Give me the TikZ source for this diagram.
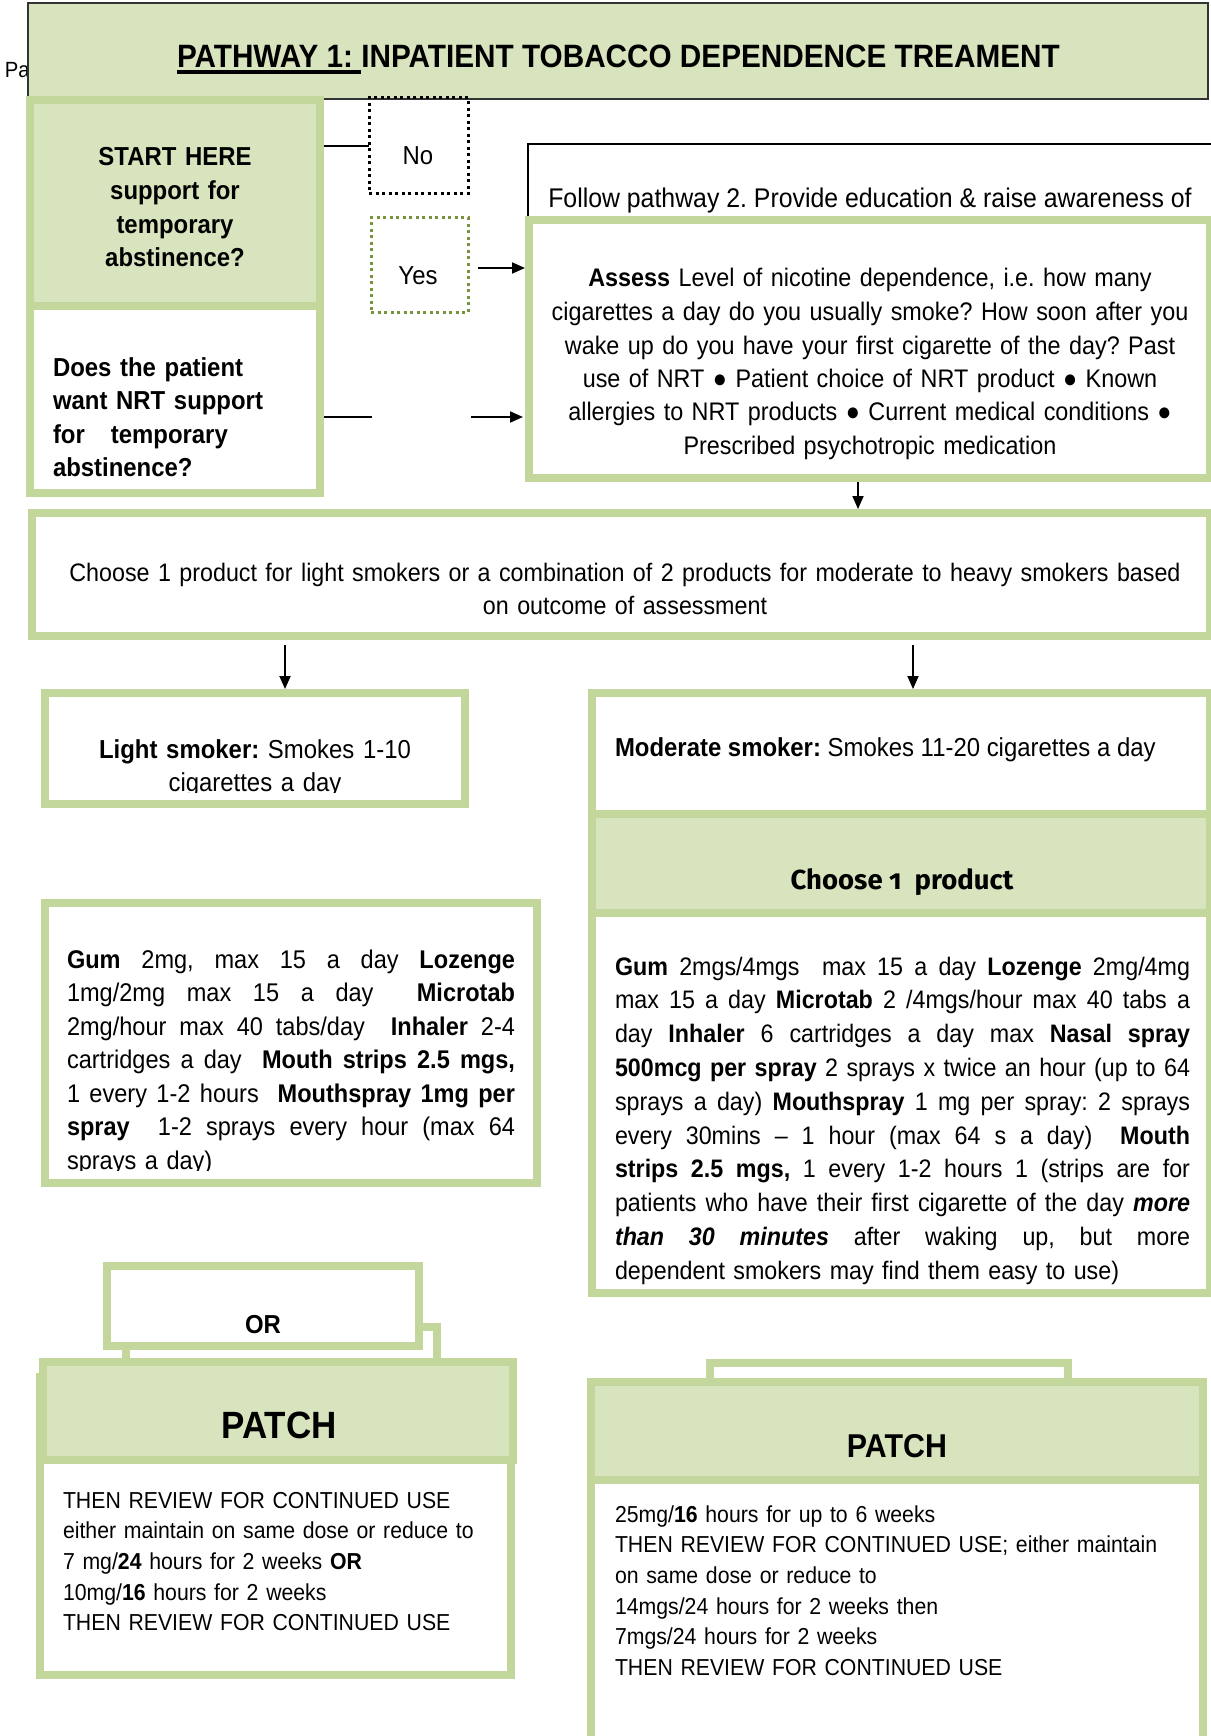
\documentclass[tikz,border=0pt]{standalone}
\usepackage{fontspec}
\setmainfont{Liberation Sans}[FakeStretch=0.92]
\newfontfamily\choosefont{Fira Sans}[Numbers=OldStyle]
\usetikzlibrary{arrows.meta}
\definecolor{lgreen}{HTML}{D7E4BD}
\definecolor{bgreen}{HTML}{C3D69B}
\definecolor{olivegr}{HTML}{77933C}
\newcommand\myfs[2]{\fontsize{#1}{#2}\selectfont}
\newcommand\jst[2]{\makebox[#1][s]{\spaceskip=\fontdimen2\font plus 1fil\relax #2}}
\newcommand\ulbox[1]{\setbox0=\hbox{#1}\rlap{\rule[-6.7pt]{\wd0}{3.5pt}}\box0}
\begin{document}
\frenchspacing
\begin{tikzpicture}[x=1pt,y=-1pt,
  box/.style={anchor=north west, inner sep=0pt, outer sep=0pt},
  gbox/.style={box, draw=bgreen, line width=8pt, fill=white},
  hbox/.style={box, draw=bgreen, line width=8pt, fill=lgreen},
  txt/.style={inner sep=0pt, outer sep=0pt, text=black},
  body/.style={txt, font=\myfs{26}{33.5}},
  bodyb/.style={txt, font=\myfs{26}{33.6}\bfseries},
  small/.style={txt, font=\myfs{23.1}{30.7}},
  conn/.style={line width=1.8pt, draw=black},
  arr/.style={conn, -{Triangle[length=13pt,width=11pt]}},
  dots/.style={box, line width=3pt, dash pattern=on 3pt off 3.5pt}]
\useasboundingbox (0,0) rectangle (1210,1736);
\fill[white] (0,0) rectangle (1210,1736);

% page stub and title
\node[txt, anchor=base west, font=\myfs{22}{26}] (pa) at (5,78) {Pa};
\node[box, fill=lgreen, draw=black!80, line width=2pt, minimum width=1180pt, minimum height=96pt] (title) at (28,3) {};
\node[txt, anchor=base west, font=\myfs{32.3}{38}\bfseries] (titletext) at (177,67.3)
  {\ulbox{PATHWAY 1: }INPATIENT TOBACCO DEPENDENCE TREAMENT};

% start / does
\node[gbox, minimum width=290pt, minimum height=187pt] (does) at (30,306) {};
\node[hbox, minimum width=290pt, minimum height=206pt] (start) at (30,100) {};
\node[bodyb, anchor=base, align=center, text width=280pt] (starttext) at (175,166)
  {START HERE\\support for\\temporary\\abstinence?};
\node[bodyb, anchor=base west, align=left, text width=260pt] (doestext) at (53,376)
  {Does the patient\\want NRT support\\for\ \ \ temporary\\abstinence?};

% No / Yes
\node[dots, draw=black, minimum width=99pt, minimum height=96pt] (nobox) at (369,98) {};
\node[body, anchor=base] (notext) at (418,165) {No};
\node[dots, draw=olivegr, minimum width=97pt, minimum height=94pt] (yesbox) at (371,218) {};
\node[body, anchor=base] (yestext) at (418,284) {Yes};

% follow pathway 2
\node[box, draw=black, line width=1.6pt, fill=white, minimum width=687pt, minimum height=156pt] (follow) at (528,144) {};
\node[txt, anchor=base, font=\myfs{27}{32}] (followtext) at (870,208)
  {Follow pathway 2. Provide education \& raise awareness of};

% assess
\node[gbox, minimum width=681pt, minimum height=258pt] (assess) at (529,220) {};
\node[txt, font=\myfs{25.4}{33.5}, anchor=base, align=center, text width=676pt] (assesstext) at (870,287)
  {\textbf{Assess} Level of nicotine dependence, i.e. how many\\
   cigarettes a day do you usually smoke? How soon after you\\
   wake up do you have your first cigarette of the day? Past\\
   use of NRT ● Patient choice of NRT product ● Known\\
   allergies to NRT products ● Current medical conditions ●\\
   Prescribed psychotropic medication};

% choose
\node[gbox, minimum width=1178pt, minimum height=123pt] (choose) at (32,513) {};
\node[txt, font=\myfs{25.3}{33.5}, anchor=base, align=center, text width=1170pt] (choosetext) at (625,581)
  {Choose 1 product for light smokers or a combination of 2 products for moderate to heavy smokers based\\on outcome of assessment};

% light smoker
\node[gbox, minimum width=420pt, minimum height=111pt] (light) at (45,693) {};
\begin{scope}
  \clip (45,693) rectangle (465,792);
  \node[body, anchor=base, align=center, text width=410pt] (lighttext) at (255,758)
    {\textbf{Light smoker:} Smokes 1-10\\cigarettes a day};
\end{scope}

\node[gbox, minimum width=492pt, minimum height=280pt] (lightbody) at (45,903) {};
\begin{scope}
  \clip (45,903) rectangle (537,1170);
  \node[txt, font=\myfs{25.6}{33.5}, anchor=base west, align=left, text width=448pt] (lightbodytext) at (67,968)
    {\jst{448pt}{\textbf{Gum} 2mg, max 15 a day \textbf{Lozenge}}\\
     \jst{448pt}{1mg/2mg max 15 a day\ \ \textbf{Microtab}}\\
     \jst{448pt}{2mg/hour max 40 tabs/day\ \ \textbf{Inhaler} 2-4}\\
     \jst{448pt}{cartridges a day\ \ \textbf{Mouth strips 2.5 mgs,}}\\
     \jst{448pt}{1 every 1-2 hours\ \ \textbf{Mouthspray 1mg per}}\\
     \jst{448pt}{\textbf{spray}\ \ 1-2 sprays every hour (max 64}\\
     sprays a day)};
\end{scope}

% moderate smoker
\node[gbox, minimum width=618pt, minimum height=121pt] (moder) at (592,693) {};
\node[body, anchor=base west] (modertext) at (615,756)
  {\textbf{Moderate smoker:} Smokes 11-20 cigarettes a day};
\node[hbox, minimum width=618pt, minimum height=99pt] (modhead) at (592,814) {};
\node[txt, anchor=base, font=\choosefont\bfseries\myfs{27.5}{30}] (modheadtext) at (902,889)
  {Choose 1\ \ product};
\node[gbox, minimum width=618pt, minimum height=380pt] (modbody) at (592,913) {};
\node[txt, font=\myfs{25.3}{33.8}, anchor=base west, align=left, text width=575pt] (modbodytext) at (615,975)
  {\jst{575pt}{\textbf{Gum} 2mgs/4mgs\ \ max 15 a day \textbf{Lozenge} 2mg/4mg}\\
   \jst{575pt}{max 15 a day \textbf{Microtab} 2 /4mgs/hour max 40 tabs a}\\
   \jst{575pt}{day \textbf{Inhaler} 6 cartridges a day max \textbf{Nasal spray}}\\
   \jst{575pt}{\textbf{500mcg per spray} 2 sprays x twice an hour (up to 64}\\
   \jst{575pt}{sprays a day) \textbf{Mouthspray} 1 mg per spray: 2 sprays}\\
   \jst{575pt}{every 30mins – 1 hour (max 64 s a day)\ \ \textbf{Mouth}}\\
   \jst{575pt}{\textbf{strips 2.5 mgs,} 1 every 1-2 hours 1 (strips are for}\\
   \jst{575pt}{patients who have their first cigarette of the day \textbf{\textit{more}}}\\
   \jst{575pt}{\textbf{\textit{than 30 minutes}} after waking up, but more}\\
   dependent smokers may find them easy to use)};

% OR and left patch
\node[gbox, minimum width=311pt, minimum height=73pt] (orshadow) at (126,1327) {};
\node[gbox, minimum width=312pt, minimum height=80pt] (orbox) at (107,1266) {};
\node[bodyb, anchor=base] (ortext) at (263,1333) {OR};
\node[gbox, minimum width=471pt, minimum height=298pt] (lpbody) at (40,1377) {};
\node[hbox, minimum width=470pt, minimum height=98pt] (lphead) at (43,1362) {};
\node[txt, anchor=base, font=\myfs{38}{44}\bfseries] (lpheadtext) at (279,1438) {PATCH};
\node[small, anchor=base west, align=left, text width=445pt] (lpbodytext) at (63,1508)
  {THEN REVIEW FOR CONTINUED USE\\
   either maintain on same dose or reduce to\\
   7 mg/\textbf{24} hours for 2 weeks \textbf{OR}\\
   10mg/\textbf{16} hours for 2 weeks\\
   THEN REVIEW FOR CONTINUED USE};

% right patch
\node[gbox, minimum width=358pt, minimum height=57pt] (rptab) at (710,1363) {};
\node[gbox, minimum width=612pt, minimum height=325pt] (rpbody) at (591,1420) {};
\node[hbox, minimum width=612pt, minimum height=98pt] (rphead) at (591,1382) {};
\node[txt, anchor=base, font=\myfs{33}{40}\bfseries] (rpheadtext) at (897,1457) {PATCH};
\node[small, anchor=base west, align=left, text width=580pt] (rpbodytext) at (615,1522)
  {25mg/\textbf{16} hours for up to 6 weeks\\
   THEN REVIEW FOR CONTINUED USE; either maintain\\
   on same dose or reduce to\\
   14mgs/24 hours for 2 weeks then\\
   7mgs/24 hours for 2 weeks\\
   THEN REVIEW FOR CONTINUED USE};

% connectors
\coordinate (ya) at (478,268);
\coordinate (d1) at (372,417);
\coordinate (d3) at (471,417);
\coordinate (a1) at (858,482);
\coordinate (c1) at (285,645);
\coordinate (c2) at (913,645);
\draw[conn] ([xshift=4pt]start.east |- nobox.west) -- (nobox.west);
\draw[arr, shorten >=4pt] (ya) -- (assess.west |- ya);
\draw[conn] ([xshift=4pt]does.east |- d1) -- (d1);
\draw[arr, shorten >=6pt] (d3) -- (assess.west |- d3);
\draw[arr, shorten >=4pt] (a1) -- (a1 |- choose.north);
\draw[arr, shorten >=4pt] (c1) -- (c1 |- light.north);
\draw[arr, shorten >=4pt] (c2) -- (c2 |- moder.north);
\end{tikzpicture}
\end{document}
